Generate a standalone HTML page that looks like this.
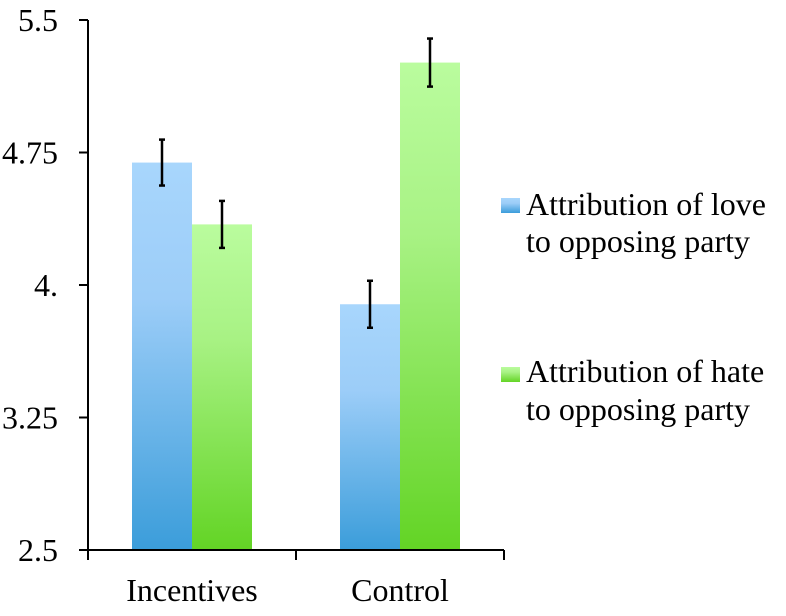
<!DOCTYPE html>
<html><head><meta charset="utf-8"><style>
html,body{margin:0;padding:0;background:#fff;}
svg text{font-family:"Liberation Serif","Noto Serif CJK SC","DejaVu Serif",serif;fill:#000;}
</style></head><body>
<svg id="chart" width="786" height="611" viewBox="0 0 786 611" xmlns="http://www.w3.org/2000/svg">
<defs>
<linearGradient id="gBlue" x1="0" y1="0" x2="0" y2="1"><stop offset="0" stop-color="#a8d6fc"/><stop offset="0.35" stop-color="#9ccdf8"/><stop offset="1" stop-color="#3b9dda"/></linearGradient>
<linearGradient id="gGreen" x1="0" y1="0" x2="0" y2="1"><stop offset="0" stop-color="#bafc9e"/><stop offset="0.35" stop-color="#a8f284"/><stop offset="1" stop-color="#63d425"/></linearGradient>
</defs>
<g id="bars"></g>
<g id="axes"></g>
<g id="legend">
<rect x="501" y="198" width="19" height="15" fill="url(#gBlue)"/>
<text x="526" y="215" font-size="32">Attribution of love</text>
<text x="526" y="252" font-size="32">to opposing party</text>
<rect x="501" y="367" width="19" height="15" fill="url(#gGreen)"/>
<text x="526" y="382" font-size="32">Attribution of hate</text>
<text x="526" y="420" font-size="32">to opposing party</text>
</g>
</svg>
<script>
const categories = ["Incentives", "Control"];
const loveValues = [4.693, 3.891];
const hateValues = [4.343, 5.259];
const loveErrors = [0.13, 0.133];
const hateErrors = [0.133, 0.136];
const yTicks = [2.5, 3.25, 4, 4.75, 5.5];
const yTickLabels = ["2.5", "3.25", "4.", "4.75", "5.5"];

const NS = "http://www.w3.org/2000/svg";
const x0 = 88, yBottom = 550, yTop = 20, yMin = 2.5, yMax = 5.5, groupW = 208, barW = 60;
function yScale(v){ return yBottom - (v - yMin) / (yMax - yMin) * (yBottom - yTop); }
function groupCenter(i){ return x0 + groupW * (i + 0.5); }
function mk(tag, attrs, parent){ const e = document.createElementNS(NS, tag); for (const k in attrs) e.setAttribute(k, attrs[k]); parent.appendChild(e); return e; }

const bars = document.getElementById("bars");
const axes = document.getElementById("axes");
const series = [
  {vals: loveValues, errs: loveErrors, fill: "url(#gBlue)", name: "love", off: -1},
  {vals: hateValues, errs: hateErrors, fill: "url(#gGreen)", name: "hate", off: 0}
];
categories.forEach((c, i) => {
  series.forEach(s => {
    const bx = groupCenter(i) + s.off * barW;
    const by = yScale(s.vals[i]);
    const r = mk("rect", {x: bx, y: by, width: barW, height: yBottom - by, fill: s.fill}, bars);
    
    
    const cx = bx + barW / 2;
    const y1 = yScale(s.vals[i] + s.errs[i]), y2 = yScale(s.vals[i] - s.errs[i]);
    const g = mk("g", {stroke: "#000", "stroke-width": 2.5}, bars);
    
    
    mk("line", {x1: cx, y1: y1, x2: cx, y2: y2}, g);
    mk("line", {x1: cx - 3, y1: y1, x2: cx + 3, y2: y1}, g);
    mk("line", {x1: cx - 3, y1: y2, x2: cx + 3, y2: y2}, g);
  });
  const t = mk("text", {x: groupCenter(i), y: 601, "font-size": 32, "text-anchor": "middle"}, axes);
  t.textContent = c;
  
  
});
const ya = mk("line", {x1: x0, y1: yTop, x2: x0, y2: yBottom, stroke: "#000", "stroke-width": 2}, axes);


const xa = mk("line", {x1: x0 - 9, y1: yBottom, x2: x0 + groupW * categories.length, y2: yBottom, stroke: "#000", "stroke-width": 2}, axes);


yTicks.forEach((v, k) => {
  const y = yScale(v);
  const tk = mk("line", {x1: x0 - 9, y1: y, x2: x0, y2: y, stroke: "#000", "stroke-width": 2}, axes);
  
  
  const tl = mk("text", {x: 58, y: y + 11, "font-size": 32, "text-anchor": "end"}, axes);
  tl.textContent = yTickLabels[k];
  
  
});
for (let i = 0; i <= categories.length; i++) {
  const x = x0 + groupW * i;
  const tk = mk("line", {x1: x, y1: yBottom, x2: x, y2: yBottom + 10, stroke: "#000", "stroke-width": 2}, axes);
  
  
}
</script>
</body></html>
